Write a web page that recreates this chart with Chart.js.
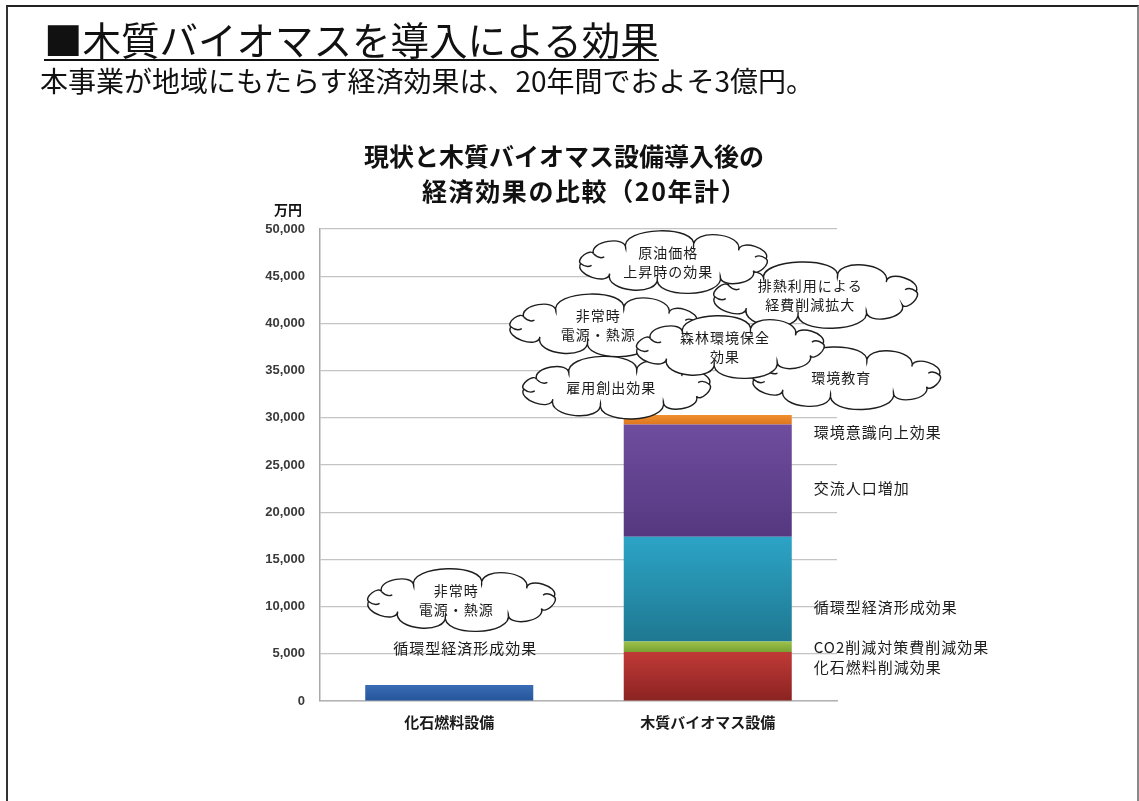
<!DOCTYPE html>
<html lang="ja">
<head>
<meta charset="utf-8">
<title>木質バイオマス導入による効果</title>
<script src="https://cdn.jsdelivr.net/npm/chart.js@4.4.1/dist/chart.umd.min.js"></script>
<style>
  html, body { margin: 0; padding: 0; background: #fff; overflow: hidden; }
  body { width: 1139px; height: 801px; position: relative; font-family: "Noto Sans CJK JP", "Noto Sans", sans-serif; color: #111; }
  #frame { position: absolute; left: 6px; top: 5px; width: 1129px; height: 900px; border-top: 2px solid #222; border-left: 2px solid #333; border-right: 2px solid #8a8a8a; }
  #heading { position: absolute; left: 44px; top: 19px; margin: 0; font-size: 38.5px; font-weight: 400; line-height: 1;
    text-decoration: underline; text-decoration-thickness: 2px; text-underline-offset: 4px; white-space: nowrap; }
  #lead { position: absolute; left: 40px; top: 66px; margin: 0; font-size: 28px; line-height: 1; white-space: nowrap; }
  .ctitle { position: absolute; font-size: 25px; font-weight: 700; line-height: 35px; white-space: nowrap; }
  #ctitle1 { left: 264px; width: 600px; top: 138px; text-align: center; }
  #ctitle2 { left: 422px; top: 173px; letter-spacing: 1.6px; }
  #unit { position: absolute; left: 274px; top: 202px; font-size: 14px; font-weight: 700; line-height: 1; }
  #chart { position: absolute; left: 0; top: 0; }
</style>
</head>
<body>
<div id="frame"></div>
<canvas id="chart" width="1139" height="801"></canvas>
<h1 id="heading">■木質バイオマスを導入による効果</h1>
<p id="lead">本事業が地域にもたらす経済効果は、20年間でおよそ3億円。</p>
<div class="ctitle" id="ctitle1">現状と木質バイオマス設備導入後の</div>
<div class="ctitle" id="ctitle2">経済効果の比較（20年計）</div>
<div id="unit">万円</div>
<script>
// 万円, 20年計
const categories = ['化石燃料設備', '木質バイオマス設備'];
const fossilPlant = [1700, null];
const fuelSaving = [null, 5200];        // 化石燃料削減効果
const co2Saving = [null, 1100];         // CO2削減対策費削減効果
const circularEconomy = [null, 11100];  // 循環型経済形成効果
const visitorGrowth = [null, 11900];    // 交流人口増加
const awareness = [null, 1000];         // 環境意識向上効果

const yMax = 50000;
const yStep = 5000;

// labels beside the biomass bar, with the value they sit at
const sideLabels = ['環境意識向上効果', '交流人口増加', '循環型経済形成効果', 'CO2削減対策費削減効果', '化石燃料削減効果'];
const sideLabelValues = [28500, 22500, 9950, 5700, 3600];
const fossilLabel = '循環型経済形成効果';
const fossilLabelValue = 5600;

// qualitative effects shown as clouds (category position, value position)
const cloudTexts = [
  ['排熱利用による', '経費削減拡大'],
  ['原油価格', '上昇時の効果'],
  ['非常時', '電源・熱源'],
  ['雇用創出効果'],
  ['環境教育'],
  ['森林環境保全', '効果'],
  ['非常時', '電源・熱源'],
];
const cloudCats = [1.42, 0.87, 0.60, 0.65, 1.54, 1.09, 0.05];
const cloudValues = [43000, 46500, 39800, 33200, 34200, 37500, 10700];

function barGradient(top, bottom) {
  return (ctx) => {
    const chart = ctx.chart;
    const y = chart.scales.y;
    if (!y || ctx.type !== 'data' || ctx.raw == null) return top;
    let base = 0;
    for (let i = 0; i < ctx.datasetIndex; i++) {
      const v = chart.data.datasets[i].data[ctx.dataIndex];
      if (v != null) base += v;
    }
    const y0 = y.getPixelForValue(base + ctx.raw);
    const y1 = y.getPixelForValue(base);
    if (!isFinite(y0) || !isFinite(y1)) return top;
    const g = chart.ctx.createLinearGradient(0, y0, 0, y1);
    g.addColorStop(0, top);
    g.addColorStop(1, bottom);
    return g;
  };
}

// lobed outline around an ellipse; returns the joints between lobes
function cloudPath(c, cx, cy, w, h) {
  const weights = [1.1, 0.85, 1.3, 0.95, 1.05, 1.35, 0.85, 1.2, 1.0, 1.25];
  const total = weights.reduce((a, b) => a + b, 0);
  const rx = w / 2 - 9, ry = h / 2 - 15;
  const pt = (a) => [cx + Math.cos(a) * rx, cy + Math.sin(a) * ry];
  let a = Math.PI * 0.97;
  const joints = [];
  c.beginPath();
  let p0 = pt(a);
  c.moveTo(p0[0], p0[1]);
  for (const wg of weights) {
    const d = wg / total * Math.PI * 2;
    const p1 = pt(a + d);
    const dx = p1[0] - p0[0], dy = p1[1] - p0[1];
    const L = Math.hypot(dx, dy);
    const nx = dy / L, ny = -dx / L;
    const k = Math.min(L * 0.4, 22);
    c.bezierCurveTo(p0[0] + nx * k - dx * 0.08, p0[1] + ny * k - dy * 0.08,
                    p1[0] + nx * k + dx * 0.08, p1[1] + ny * k + dy * 0.08,
                    p1[0], p1[1]);
    joints.push(p1);
    a += d;
    p0 = p1;
  }
  c.closePath();
  return joints;
}

const overlayPlugin = {
  id: 'overlay',
  afterDatasetsDraw(chart) {
    const c = chart.ctx;
    const x = chart.scales.x, y = chart.scales.y;
    const bar2 = chart.getDatasetMeta(chart.data.datasets.length - 1).data[1];
    const bar1 = chart.getDatasetMeta(0).data[0];

    c.save();
    c.fillStyle = '#1a1a1a';
    c.font = '15px "Noto Sans CJK JP"';
    c.letterSpacing = '1px';
    c.textBaseline = 'middle';
    c.textAlign = 'left';
    const lx = bar2.x + bar2.width / 2 + 22;
    sideLabels.forEach((t, i) => c.fillText(t, lx, y.getPixelForValue(sideLabelValues[i])));
    c.textAlign = 'center';
    c.fillText(fossilLabel, bar1.x + 16, y.getPixelForValue(fossilLabelValue));

    cloudTexts.forEach((lines, i) => {
      const cx = x.getPixelForValue(cloudCats[i]);
      const cy = y.getPixelForValue(cloudValues[i]);
      const w = i === 0 ? 222 : 206;
      const h = i === 0 ? 66 : 62;
      const joints = cloudPath(c, cx, cy, w, h);
      c.fillStyle = '#fff';
      c.fill();
      c.lineWidth = 1.4;
      c.strokeStyle = '#1e1e1e';
      c.stroke();
      // short curls reaching in from the joints at the ends
      [0, 4, 9].forEach((j) => {
        const p = joints[j];
        const vx = cx - p[0], vy = cy - p[1];
        const len = Math.hypot(vx, vy);
        const ux = vx / len, uy = vy / len;
        c.beginPath();
        c.moveTo(p[0], p[1]);
        c.quadraticCurveTo(p[0] + ux * 6 - uy * 5, p[1] + uy * 6 + ux * 5,
                           p[0] + ux * 11 - uy * 2, p[1] + uy * 11 + ux * 2);
        c.stroke();
      });
      c.fillStyle = '#1a1a1a';
      c.font = '14px "Noto Sans CJK JP"';
      c.letterSpacing = '1px';
      const lh = 19;
      const ty = cy - (lines.length - 1) * lh / 2;
      lines.forEach((t, k) => c.fillText(t, cx - 6, ty + k * lh));
    });
    c.restore();
  }
};

new Chart(document.getElementById('chart'), {
  type: 'bar',
  data: {
    labels: categories,
    datasets: [
      { label: '化石燃料設備', data: fossilPlant, backgroundColor: barGradient('#3a6db5', '#25549a') },
      { label: '化石燃料削減効果', data: fuelSaving, backgroundColor: barGradient('#c03a37', '#8a2321') },
      { label: 'CO2削減対策費削減効果', data: co2Saving, backgroundColor: barGradient('#9cc24a', '#7aa133') },
      { label: '循環型経済形成効果', data: circularEconomy, backgroundColor: barGradient('#2ca4c6', '#1f7891') },
      { label: '交流人口増加', data: visitorGrowth, backgroundColor: barGradient('#6f4d9f', '#553880') },
      { label: '環境意識向上効果', data: awareness, backgroundColor: barGradient('#f0902f', '#de761e') },
    ],
  },
  options: {
    responsive: false,
    animation: false,
    events: [],
    layout: { padding: { left: 250, right: 302, top: 229, bottom: 0 } },
    datasets: { bar: { categoryPercentage: 1, barPercentage: 0.65, borderWidth: 0 } },
    plugins: {
      legend: { display: false },
      tooltip: { enabled: false },
      title: { display: false },
    },
    scales: {
      x: {
        stacked: true,
        afterFit: (s) => { s.height = 100; },
        grid: { display: false, drawTicks: false },
        border: { display: true, color: '#b4b4b4', width: 1.5 },
        ticks: { padding: 12, color: '#1a1a1a', font: { family: '"Noto Sans CJK JP"', size: 15, weight: 'bold' } },
      },
      y: {
        stacked: true,
        min: 0,
        max: yMax,
        afterFit: (s) => { s.width = 70; },
        grid: { color: '#c4c4c4', lineWidth: 1.2, drawTicks: false },
        border: { display: true, color: '#a8a8a8', width: 1.5 },
        ticks: {
          stepSize: yStep,
          padding: 15,
          color: '#3a3a3a',
          font: { family: '"Liberation Sans", Arial, sans-serif', size: 13, weight: 'bold' },
          callback: (v) => v.toLocaleString('en-US'),
        },
      },
    },
  },
  plugins: [overlayPlugin],
});
</script>
</body>
</html>
